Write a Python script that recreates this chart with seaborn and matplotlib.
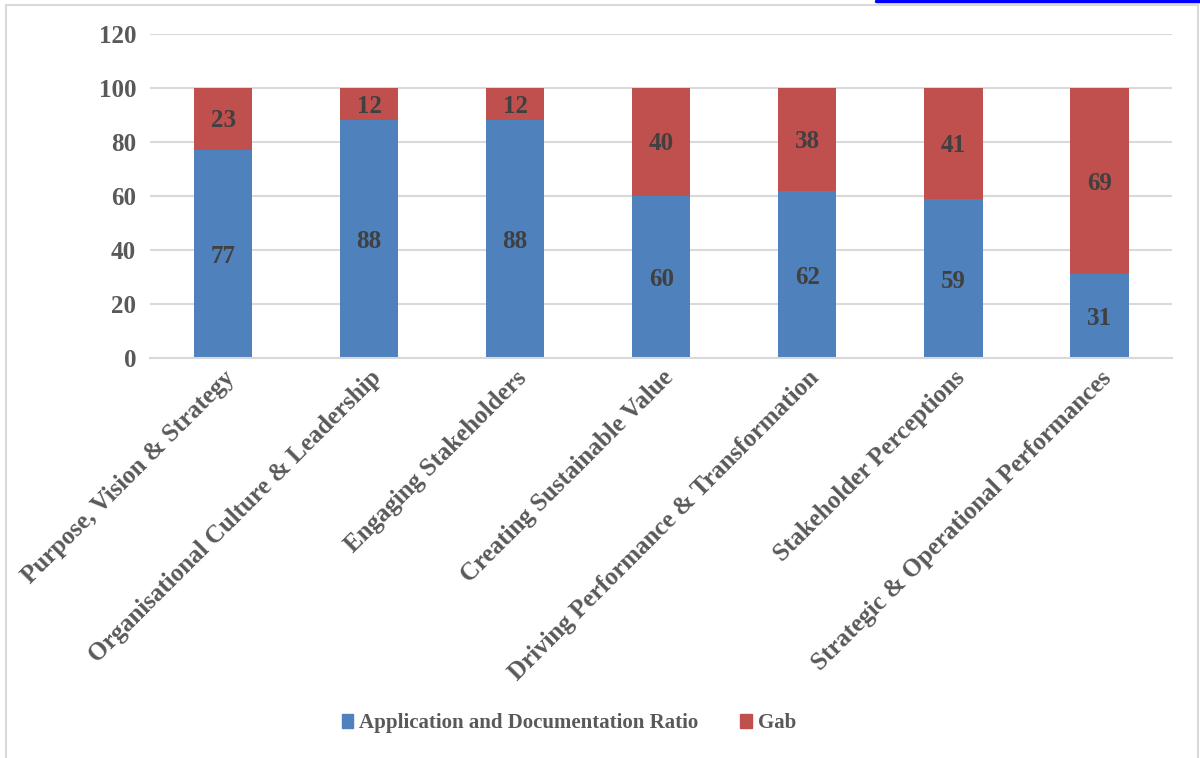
import pandas as pd
import seaborn as sns
from matplotlib import pyplot as plt
from matplotlib.patches import Rectangle, Patch
from matplotlib.lines import Line2D

# Chart data
categories = ['Purpose, Vision & Strategy', 'Organisational Culture & Leadership',
              'Engaging Stakeholders', 'Creating Sustainable Value',
              'Driving Performance & Transformation', 'Stakeholder Perceptions',
              'Strategic & Operational Performances']
ratio = [77, 88, 88, 60, 62, 59, 31]
gab = [23, 12, 12, 40, 38, 41, 69]
series_names = ['Application and Documentation Ratio', 'Gab']
y_ticks = [0, 20, 40, 60, 80, 100, 120]

blue = '#4f81bd'
red = '#c0504d'
grey_text = '#595959'
dark_text = '#404040'

df = pd.DataFrame({'category': categories, 'ratio': ratio, 'gab': gab})

sns.set_style('white')
plt.rcParams['font.family'] = ['Liberation Serif', 'DejaVu Serif']
plt.rcParams['font.weight'] = 'bold'

fig = plt.figure(figsize=(12, 7.58), dpi=100)
ax = fig.add_axes([0.125, 0.5277, 0.852, 0.4274])

sns.barplot(data=df, x='category', y='ratio', color=blue, width=0.4,
            saturation=1, ax=ax, edgecolor='none')
sns.barplot(data=df, x='category', y='gab', bottom=df['ratio'], color=red,
            width=0.4, saturation=1, ax=ax, edgecolor='none')

# Value labels in the middle of each segment
for i, (r, g) in enumerate(zip(ratio, gab)):
    ax.text(i, r / 2 - 1, str(r), ha='center', va='center', fontsize=18,
            fontweight='bold', color=dark_text)
    ax.text(i, r + g / 2 - 0.7, str(g), ha='center', va='center', fontsize=18,
            fontweight='bold', color=dark_text)

ax.set_ylim(0, 120)
ax.set_xlim(-0.5, len(categories) - 0.5)
ax.set_yticks(y_ticks)
ax.yaxis.grid(True, color='#d9d9d9', linewidth=1.5)
ax.set_axisbelow(True)
for side in ['top', 'right', 'left']:
    ax.spines[side].set_visible(False)
ax.spines['bottom'].set_color('#d9d9d9')
ax.spines['bottom'].set_linewidth(1.5)
ax.set_xlabel('')
ax.set_ylabel('')
ax.tick_params(axis='both', length=0, labelsize=18, labelcolor=grey_text, pad=10)
ax.tick_params(axis='x', pad=6)
for lbl in ax.get_xticklabels():
    lbl.set_rotation(45)
    lbl.set_ha('right')
    lbl.set_rotation_mode('anchor')
    lbl.set_fontweight('bold')
for lbl in ax.get_yticklabels():
    lbl.set_fontweight('bold')

handles = [Patch(color=blue), Patch(color=red)]
fig.legend(handles, series_names, loc='center', bbox_to_anchor=(0.474, 0.046),
           ncol=2, frameon=False, handlelength=0.55, handleheight=0.65,
           handletextpad=0.3, columnspacing=2.0, labelcolor=grey_text,
           prop={'weight': 'bold', 'size': 15})

# chart frame and clipped link line at top
fig.add_artist(Rectangle((0.005, -0.01), 0.993, 1.003, transform=fig.transFigure,
                         fill=False, edgecolor='#d9d9d9', linewidth=1.5))
fig.add_artist(Line2D([0.73, 1.0], [0.999, 0.999], transform=fig.transFigure,
                      color='#0000ff', linewidth=2.5))

plt.savefig('out.png', dpi=100)
